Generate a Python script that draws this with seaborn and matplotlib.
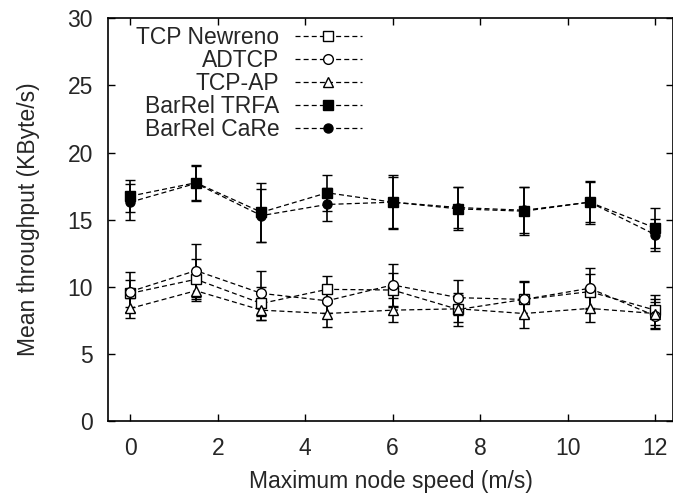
import numpy as np
import pandas as pd
import matplotlib
matplotlib.use("Agg")
import matplotlib.pyplot as plt
import seaborn as sns

speeds = [0, 1.5, 3, 4.5, 6, 7.5, 9, 10.5, 12]
series = ["TCP Newreno", "ADTCP", "TCP-AP", "BarRel TRFA", "BarRel CaRe"]

newreno = [9.5, 10.55, 8.75, 9.8, 9.75, 8.3, 9.05, 9.63, 8.25]
newreno_err = [1.0, 1.5, 1.2, 1.0, 1.3, 1.2, 1.3, 1.3, 1.1]
adtcp = [9.63, 11.2, 9.5, 8.95, 10.13, 9.18, 9.05, 9.88, 7.83]
adtcp_err = [1.5, 2.0, 1.7, 0.9, 1.55, 1.3, 1.4, 1.5, 1.0]
tcpap = [8.38, 9.7, 8.25, 8.0, 8.25, 8.35, 8.0, 8.38, 8.0]
tcpap_err = [0.75, 0.8, 0.7, 1.0, 0.9, 1.0, 1.1, 1.0, 1.1]
trfa = [16.75, 17.75, 15.55, 17.0, 16.3, 15.8, 15.63, 16.3, 14.38]
trfa_err = [1.2, 1.3, 2.2, 1.35, 2.0, 1.6, 1.8, 1.6, 1.5]
care = [16.3, 17.7, 15.3, 16.13, 16.3, 15.9, 15.7, 16.3, 13.88]
care_err = [1.35, 1.3, 2.0, 1.2, 1.9, 1.5, 1.7, 1.5, 1.2]

values = [newreno, adtcp, tcpap, trfa, care]
errors = [newreno_err, adtcp_err, tcpap_err, trfa_err, care_err]
markers = ["s", "o", "^", "s", "o"]
faces = ["white", "white", "white", "black", "black"]
msizes = [6.5, 7, 6.5, 7, 6.5]

sns.set_theme(style="ticks")
plt.rcParams["font.family"] = ["Liberation Sans", "DejaVu Sans"]
FS = 16.5

fig = plt.figure(figsize=(6.73, 4.98), dpi=100)
ax = fig.add_axes([0.161, 0.155, 0.8385, 0.808])

for name, vals, errs, m, fc, ms in zip(series, values, errors, markers, faces, msizes):
    df = pd.DataFrame({"speed": speeds, "thr": vals})
    ax.errorbar(speeds, vals, yerr=errs, fmt="none", ecolor="black",
                elinewidth=1.2, capsize=3.5, capthick=1.0, zorder=2)
    sns.lineplot(data=df, x="speed", y="thr", ax=ax, color="black",
                 linestyle=(0, (4, 2.5)), linewidth=0.9, marker=m,
                 markersize=ms, markerfacecolor=fc, markeredgecolor="black",
                 markeredgewidth=1.0, label=name, zorder=3)

ax.set_xlim(-0.5, 12.4)
ax.set_ylim(0, 30)
ax.set_xticks([0, 2, 4, 6, 8, 10, 12])
ax.set_yticks([0, 5, 10, 15, 20, 25, 30])
ax.tick_params(direction="in", length=5, width=1, top=True, right=True,
               labelsize=FS, color="black")
ax.tick_params(axis="y", pad=11)
ax.tick_params(axis="x", pad=12)
for s in ax.spines.values():
    s.set_linewidth(1.2)
    s.set_color("black")
ax.set_xlabel("Maximum node speed (m/s)", fontsize=FS, labelpad=7)
ax.set_ylabel("Mean throughput (KByte/s)", fontsize=FS, labelpad=20)

leg = ax.legend(loc="upper left", bbox_to_anchor=(0.049, 0.982), frameon=False,
                markerfirst=False, fontsize=FS, handlelength=2.9,
                handletextpad=0.7, labelspacing=0.0, borderaxespad=0.0,
                borderpad=0.0)
for t in leg.get_texts():
    t.set_ha("right")
leg._legend_box.align = "right"

fig.savefig("out.png", dpi=100)
